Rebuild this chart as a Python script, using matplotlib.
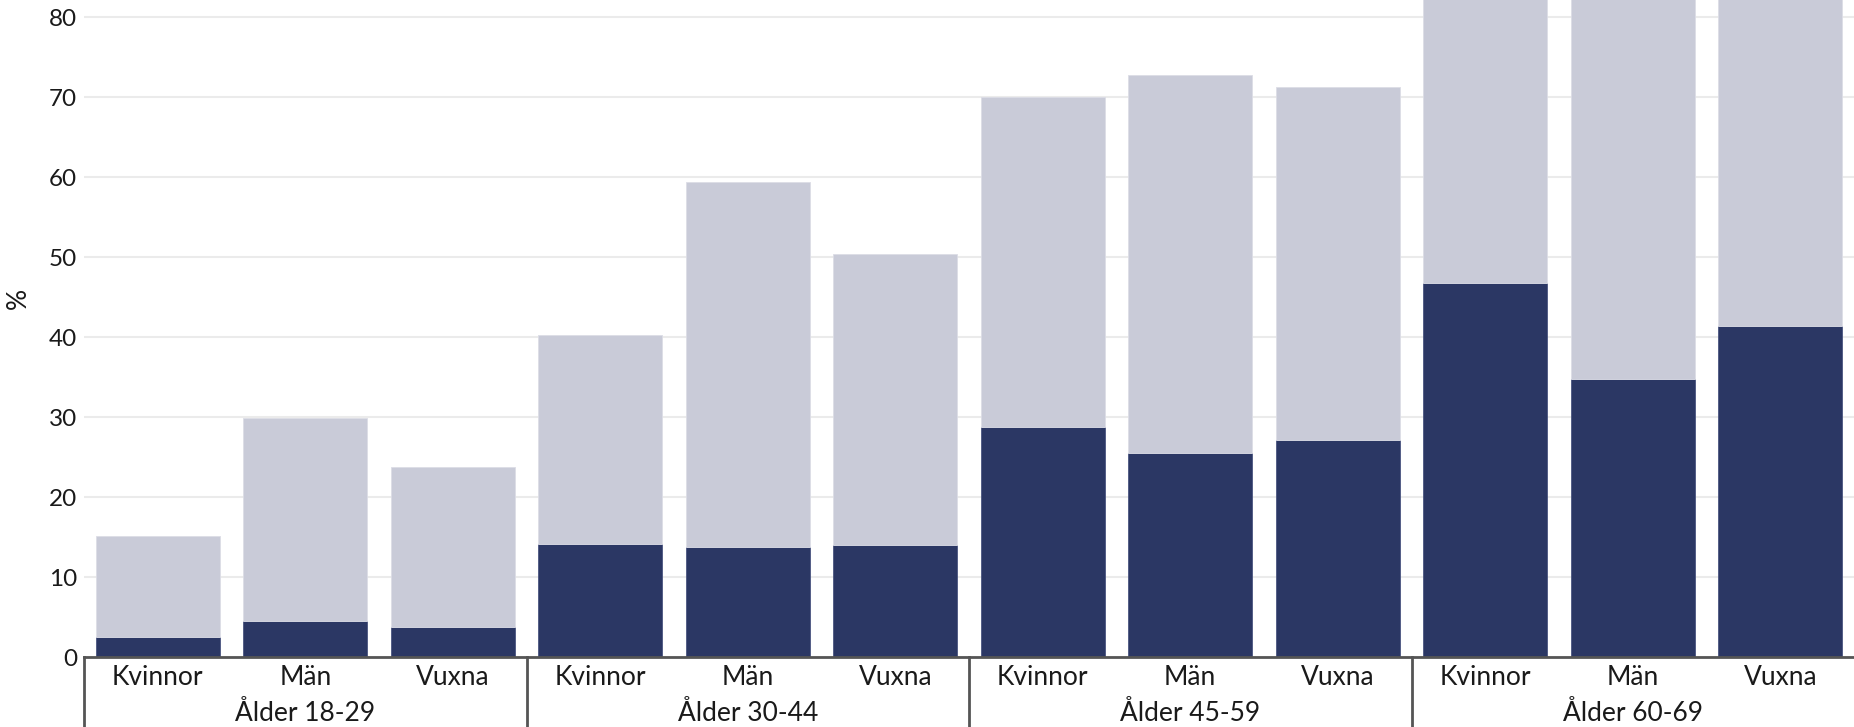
import matplotlib.pyplot as plt
import numpy as np

plt.rcParams['font.family'] = ['Lato', 'DejaVu Sans']

# data
groups = ['Ålder 18-29', 'Ålder 30-44', 'Ålder 45-59', 'Ålder 60-69']
kategorier = ['Kvinnor', 'Män', 'Vuxna']
totalt = [15.1, 29.9, 23.7, 40.3, 59.4, 50.4, 70.0, 72.8, 71.2, 86.0, 84.0, 85.0]
mork = [2.55, 4.55, 3.75, 14.1, 13.8, 13.95, 28.7, 25.5, 27.1, 46.75, 34.75, 41.35]
yticks = [0, 10, 20, 30, 40, 50, 60, 70, 80]

ljus = np.array(totalt) - np.array(mork)
x = np.arange(len(totalt))
labels = kategorier * len(groups)

W, H = 1854, 727
Y0 = 657
fig = plt.figure(figsize=(W / 100, H / 100), dpi=100)
ax = fig.add_axes([84 / W, (H - Y0) / H, (W - 84) / W, Y0 / H])

ax.bar(x, mork, width=0.84, color='#2b3764', edgecolor='#4a5580', linewidth=0.6, zorder=3)
ax.bar(x, ljus, bottom=mork, width=0.84, color='#c9cbd8', edgecolor='#dcdde6', linewidth=0.6, zorder=3)

ax.set_xlim(-0.5, 11.5)
ax.set_ylim(0, Y0 / 8)
ax.set_yticks(yticks)
ax.tick_params(axis='y', length=0, pad=5, labelsize=17.5, labelcolor='#1a1a1a')
ax.set_xticks(x)
ax.set_xticklabels(labels)
ax.tick_params(axis='x', length=0, pad=6, labelsize=19, labelcolor='#1a1a1a')

ax.grid(axis='y', color='#ebebeb', linewidth=1.5, zorder=0)
for s in ['top', 'right', 'left']:
    ax.spines[s].set_visible(False)
ax.spines['bottom'].set_color('#555555')
ax.spines['bottom'].set_linewidth(2)
ax.spines['bottom'].set_zorder(4)

# group separators and group labels
tr = ax.get_xaxis_transform()
for i in range(len(groups)):
    xs = i * 3 - 0.5
    ax.plot([xs, xs], [0, -0.2], transform=tr, color='#555555', linewidth=2, clip_on=False)
    ax.text(i * 3 + 1, -64 / Y0, groups[i], transform=tr, ha='center', va='baseline',
            fontsize=19, color='#1a1a1a')

fig.text(18 / W, 1 - 298 / H, '%', rotation=90, ha='center', va='center', fontsize=19, color='#1a1a1a')

fig.savefig('out.png', dpi=100)
